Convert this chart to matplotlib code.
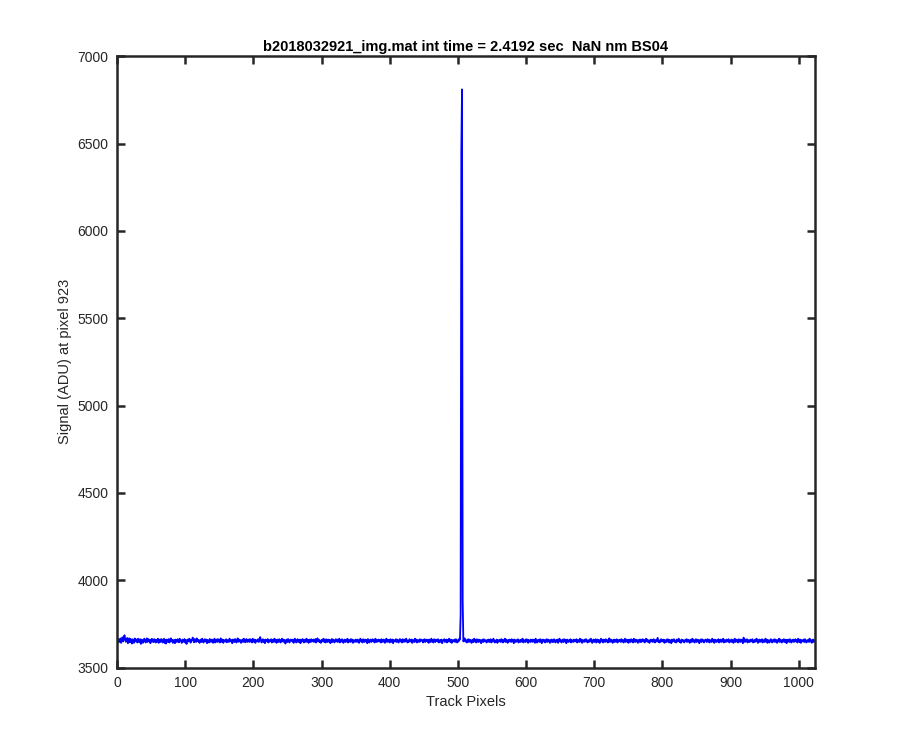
import numpy as np
import matplotlib
matplotlib.use("Agg")
import matplotlib.pyplot as plt

plt.rcParams['font.family'] = ['Liberation Sans', 'DejaVu Sans']

# baseline level and the noise (ADU, one value per track pixel)
baseline = 3652
noise = [
    5, -9, 11, 3, -6, 14, -11, 8, 21, -3, 15, 33, 7, -5, 12, 17, -13, 4, 15, -8, 12, 1, -15, 9, 5, -11, 14, 10, -3, 8, -9, 13,
    2, -7, 10, -17, 8, 5, -11, -3, 13, 7, -9, 4, 15, -6, 11, -1, 7, -13, 5, 12, -4, 9, -7, 10, 3, -9, 6, -3, 13, -11, 2, 8,
    -6, 11, 5, -9, 3, 13, -12, 6, -15, 8, 2, -6, 11, -9, 4, 15, -2, 7, -11, 3, 6, -13, 8, -1, -6, 10, 2, -8, 13, 5, -4, -11,
    8, -5, 2, 11, -9, 6, -17, 3, 8, -3, 13, 5, -10, 7, 2, 19, 5, -8, 11, 3, -6, 15, 7, -3, 5, -11, 2, 8, -6, 13, -1, -9,
    6, 10, -3, 8, -13, 5, 2, -9, 11, 6, -6, 8, 3, -11, 5, 13, -9, 2, 8, -6, 11, -3, 5, -9, 15, 3, -6, 8, -11, 5, 2, -3,
    10, -8, 5, 2, -6, 13, 7, -3, 5, -13, 8, 2, -6, 11, 5, -9, 2, 15, -5, 8, -3, 5, -11, 2, 8, -6, 13, 5, -8, 3, 11, -6,
    3, 8, -6, 11, -3, 5, -9, 13, 2, -6, 8, -11, 5, 2, -3, 10, -6, 8, 22, 5, -9, 2, 10, -6, 5, -13, 8, 2, -3, 11, -9, 5,
    -3, 5, 10, -9, 2, 8, -6, 13, -3, 5, -11, 8, 2, -6, 10, 5, -9, 2, 13, -3, 8, -6, 5, -15, 2, 8, -6, 11, 3, -9, 5, 8,
    5, -3, 8, -11, 5, 13, 2, -9, 5, 10, -6, 2, 8, -13, 5, -3, 11, 5, -9, 2, 8, -6, 13, -3, 5, -11, 8, 2, -6, 10, -3, 5,
    8, -6, 2, 11, -9, 5, 15, -3, 8, -6, 2, -11, 5, 8, -3, 13, -6, 5, -9, 10, 2, -6, 8, -3, 5, -13, 2, 11, -6, 8, 3, -9,
    5, 10, -3, 8, -6, 2, 13, -9, 5, -3, 10, 5, -11, 2, 8, -6, 5, -3, 13, -9, 2, 5, -6, 11, -3, 8, -11, 5, 2, -6, 8, 3,
    -6, 8, 2, -11, 5, 13, -3, 5, -9, 10, 2, -6, 8, -3, 5, -13, 11, 2, -9, 5, 8, -6, 2, 10, -3, 5, -9, 13, 2, -6, 5, -3,
    8, -3, 5, -9, 10, 2, -6, 8, 5, -11, 2, 13, -6, 8, -3, 5, -9, 10, 2, -6, 8, -13, 5, 2, -3, 10, -6, 8, 2, -9, 5, 11,
    -3, 5, -9, 10, 2, -6, 8, -3, 13, 5, -9, 2, -6, 10, 5, -3, 8, -11, 5, 2, -6, 13, -3, 8, -9, 5, 2, -6, 10, -3, 5, 8,
    2, -9, 5, 10, -6, 2, 8, -3, 5, -11, 8, 2, -6, 13, -3, 5, -9, 10, 2, -6, 8, 5, -3, 10, -9, 2, 5, -6, 8, -13, 2, 5,
    10, -6, 2, 8, -9, 5, -3, 13, 2, -6, 8, -11, 5, 2, -3, 8, -6, 10, 2, -9, 5, -3, 13, -6, 8, 2, -11, 5, -3, 8, 15, -3,
    5, -9, 2, 10, -6, 8, -3, 5, -11, 2, 8, -6, 13, -3, 5, -9, 10, 2, -6, 8, -3, 5, -13, 2, 8, -6, 10, -3, 5, 2, -9, 5,
    -3, 8, -6, 2, 10, -9, 5, -3, 13, 5, -9, 2, -6, 8, -11, 5, 2, -3, 8, -6, 10, 2, -9, 5, -3, 13, -6, 8, 2, -11, 5, -3,
    8, 2, -6, 10, -3, 5, -13, 8, 2, -6, 5, -3, 10, -9, 2, 5, -6, 8, -3, 13, -9, 5, 2, -6, 10, -3, 8, -11, 5, 2, -6, 8,
    2, -6, 8, -3, 5, -11, 13, 2, -9, 5, -3, 8, -6, 10, 2, -13, 5, 8, -3, 5, -9, 2, 10, -6, 8, -3, 5, -11, 2, 8, -6, 5,
    -6, 10, 2, -9, 5, -3, 8, -11, 5, 13, -3, 5, -9, 2, 8, -6, 10, -3, 5, -13, 8, 2, -6, 5, -3, 10, -9, 5, 2, -6, 8, -3,
    5, -3, 10, -9, 2, 5, -6, 13, -3, 8, -11, 5, 2, -6, 8, -3, 10, 5, -9, 2, -6, 8, -3, 13, 5, -11, 2, 8, -6, 2, 10, -9,
    2, 8, -6, 5, -11, 2, 13, -3, 5, -9, 8, 2, -6, 10, -3, 5, -9, 2, 15, -6, 8, -3, 5, -11, 2, 8, -6, 5, -3, 10, -9, 5,
    -3, 5, 8, -6, 10, -3, 5, -9, 2, 13, -6, 8, -3, 5, -11, 8, 2, -6, 10, -3, 5, -9, 13, 2, -6, 8, -3, 5, -11, 2, 8, -6,
    8, -6, 2, 10, -3, 5, -9, 5, 13, -3, 8, -6, 2, -11, 5, 8, -3, 5, -6, 10, 2, -9, 5, -3, 8, 18, -6, 2, -9, 5, 10, -3,
    5, -3, 8, -11, 2, 5, -6, 10, -3, 8, -9, 5, 2, -13, 8, -3, 5, 10, -6, 2, -9, 8, -3, 5, 13, -6, 2, -11, 8, -3, 5, 2,
    -9, 5, 2, 10, -6, 8, -3, 5, -11, 2, 8, -6, 13, -3, 5, -9, 2, 10, -6, 8, -3, 5, -13, 2, 8, -6, 10, -3, 5, -9, 2, 8,
    2, -6, 10, -3, 8, -9, 5, 2, -6, 13, -3, 5, -11, 8, 2, -6, 5, -3, 10, -9, 2, 8, -6, 5, -3, 13, -9, 5, 2, -6, 8, -3,
    5, 10, -9, 2, -3, 8, -6, 5, -11, 2, 13, -6, 8, -3, 5, -9, 10, 2, -6, 8, -3, 5, -13, 19, 2, -6, 8, -3, 10, -9, 5, 2,
    -6, 8, -3, 5, 10, -9, 2, -6, 8, -3, 13, 5, -11, 2, 8, -6, 5, -3, 10, -9, 5, 2, -6, 13, -3, 8, -11, 5, 2, -9, 5, 10,
    2, -9, 5, -3, 10, -6, 8, 2, -11, 5, -3, 13, -6, 8, 2, -9, 5, -3, 10, -6, 2, 8, -13, 5, -3, 8, -6, 10, 2, -9, 5, -3,
    8, -6, 2, 10, -3, 5, -9, 13, 2, -6, 8, -11, 5, 2, -3, 8, -6, 10, 5, -9, 2, -3, 8, -6, 13, -3, 5, -11, 2, 8, -6, 2,
]

# the spike around track pixel 505
peak_pixels = [503, 504, 505, 506, 507]
peak_values = [3660, 3800, 6450, 6810, 3880]

signal = np.array(noise, dtype=float) + baseline
signal[peak_pixels] = peak_values
pixels = np.arange(len(signal))

fig = plt.figure(figsize=(9, 7.5), dpi=100)
ax = fig.add_axes([0.13, 0.11, 0.775, 0.815])
ax.plot(pixels, signal, color=(0, 0, 1), lw=1.3)

ax.set_xlim(0, 1023)
ax.set_ylim(3500, 7000)
ax.set_xticks(np.arange(0, 1001, 100))
ax.set_yticks(np.arange(3500, 7001, 500))

dark = '#262626'
for s in ax.spines.values():
    s.set_linewidth(1.8)
    s.set_color(dark)
ax.tick_params(direction='in', top=True, right=True, length=6, width=1.8,
               colors=dark, labelsize=10, pad=6)
for lbl in ax.get_xticklabels() + ax.get_yticklabels():
    lbl.set_color(dark)

ax.set_title('b2018032921_img.mat int time = 2.4192 sec  NaN nm BS04',
             fontsize=10.5, fontweight='bold', pad=4)
ax.set_xlabel('Track Pixels', fontsize=10.5, color=dark)
ax.set_ylabel('Signal (ADU) at pixel 923', fontsize=10.5, color=dark)

fig.savefig('out.png', dpi=100)
